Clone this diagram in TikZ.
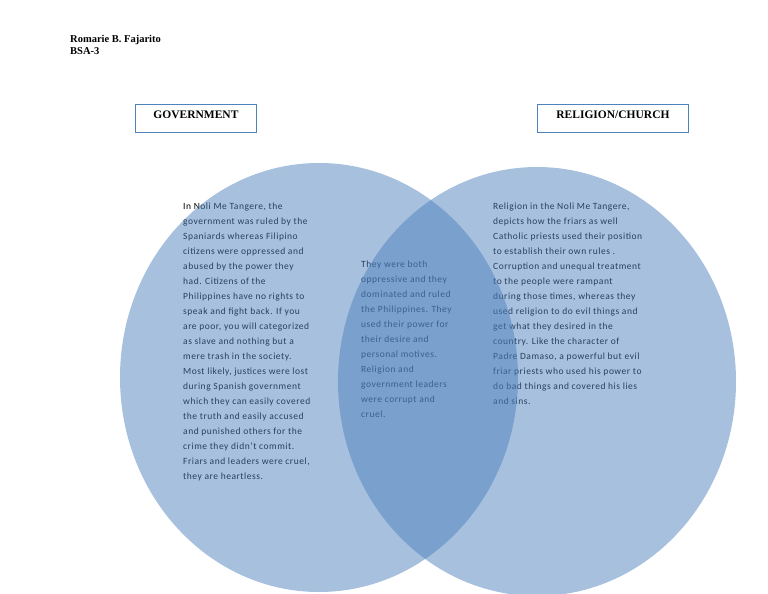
\documentclass[tikz,border=0pt]{standalone}
\usepackage{fontspec}
\setmainfont{Carlito}[LetterSpace=5.5]
\newfontfamily\headfont{Liberation Serif}
\usepackage{tikz}
\definecolor{vennblue}{HTML}{4F81BD}

\begin{document}
\begin{tikzpicture}[x=1pt, y=-1pt,
   head/.style={draw=vennblue, line width=0.9pt, anchor=north west,
                font=\headfont\bfseries\fontsize{11.5}{13}\selectfont,
                text height=11pt, text depth=11pt, inner ysep=3pt, inner xsep=0pt},
   body/.style={font=\fontsize{9.5}{15}\selectfont, align=left, inner sep=0pt, anchor=north west},
   venn/.style={fill=vennblue, fill opacity=0.5}]
  \useasboundingbox (0,0) rectangle (768,594);
  \node[font=\headfont\bfseries\fontsize{10.5}{12}\selectfont, align=left, anchor=north west,
        inner sep=0pt] (author) at (70,35) {Romarie B. Fajarito\\BSA-3};
  \node[head, minimum width=121pt] (gov) at (135,104) {GOVERNMENT};
  \node[head, minimum width=151pt] (church) at (537,104) {RELIGION/CHURCH};
  % texts first, the circles are laid over them
  \node[body] (govtext) at (183,203) {In Noli Me Tangere, the\\
    government was ruled by the\\ Spaniards whereas Filipino\\
    citizens were oppressed and\\ abused by the power they\\
    had. Citizens of the\\ Philippines have no rights to\\
    speak and fight back. If you\\ are poor, you will categorized\\
    as slave and nothing but a\\ mere trash in the society.\\
    Most likely, justices were lost\\ during Spanish government\\
    which they can easily covered\\ the truth and easily accused\\
    and punished others for the\\ crime they didn't commit.\\
    Friars and leaders were cruel,\\ they are heartless.};
  \node[body] (bothtext) at (361,261) {They were both\\ oppressive and they\\
    dominated and ruled\\ the Philippines. They\\ used their power for\\
    their desire and\\ personal motives.\\ Religion and\\
    government leaders\\ were corrupt and\\ cruel.};
  \node[body] (churchtext) at (493,203) {Religion in the Noli Me Tangere,\\
    depicts how the friars as well\\ Catholic priests used their position\\
    to establish their own rules .\\ Corruption and unequal treatment\\
    to the people were rampant\\ during those times, whereas they\\
    used religion to do evil things and\\ get what they desired in the\\
    country. Like the character of\\ Padre Damaso, a powerful but evil\\
    friar priests who used his power to\\ do bad things and covered his lies\\
    and sins.};
  \fill[venn] (319,377.5) ellipse [x radius=199pt, y radius=214.5pt];
  \fill[venn] (537,381.5) ellipse [x radius=199pt, y radius=214.5pt];
\end{tikzpicture}
\end{document}
